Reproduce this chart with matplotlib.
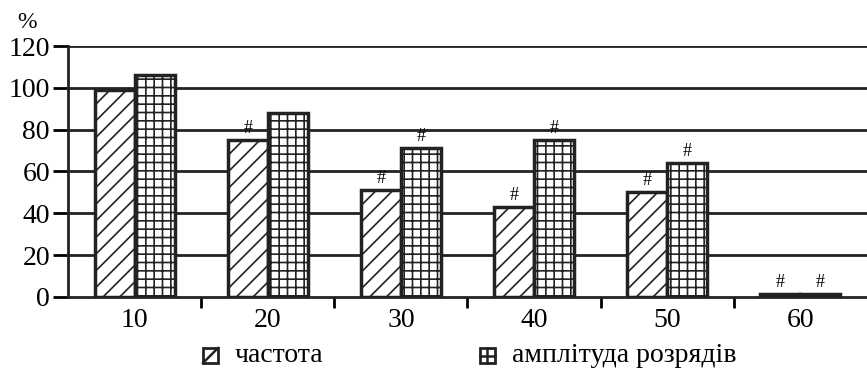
import matplotlib
matplotlib.use("Agg")
import matplotlib.pyplot as plt
from matplotlib.patches import Rectangle
from matplotlib.lines import Line2D
import numpy as np

plt.rcParams['font.family'] = ['Liberation Serif', 'DejaVu Serif']
plt.rcParams['hatch.linewidth'] = 1.2

# data
groups = ['10', '20', '30', '40', '50', '60']
freq = [99, 75, 51, 43, 50, 1.2]
ampl = [106, 88, 71, 75, 64, 1.2]
freq_mark = [False, True, True, True, True, True]
ampl_mark = [False, False, True, True, True, True]
legend_labels = ['частота', 'амплітуда розрядів']

W, H = 867, 371
fig = plt.figure(figsize=(W / 100, H / 100), dpi=100)
ax = fig.add_axes([0.0784, 0.1995, 0.9216, 0.6765])

x = np.arange(len(groups))
w = 0.3

ax.set_ylim(0, 120)
ax.set_xlim(-0.5, len(groups) - 0.5)
for yv in range(20, 121, 20):
    ax.axhline(yv, color='#222222', lw=2, zorder=1)

ax.bar(x - w / 2, freq, w, facecolor='white', edgecolor='#222222',
       hatch='//', lw=2.5, zorder=2)
ax.bar(x + w / 2, ampl, w, facecolor='white', edgecolor='#222222',
       hatch='++', lw=2.5, zorder=2)

for i in range(len(groups)):
    if freq_mark[i]:
        ax.text(x[i] - w / 2, freq[i] + 1.5, '#', ha='center', va='bottom',
                fontsize=13)
    if ampl_mark[i]:
        ax.text(x[i] + w / 2, ampl[i] + 1.5, '#', ha='center', va='bottom',
                fontsize=13)

ax.set_xticks(x)
ax.set_xticklabels(groups, fontsize=20)
ax.set_xticks(x[:-1] + 0.5, minor=True)
ax.tick_params(axis='x', which='major', length=0, pad=8)
ax.tick_params(axis='x', which='minor', length=8, width=2, direction='out')
ax.set_yticks(range(0, 121, 20))
ax.tick_params(axis='y', length=11, width=2, labelsize=20, pad=2)

for s in ['top', 'right']:
    ax.spines[s].set_visible(False)
for s in ['left', 'bottom']:
    ax.spines[s].set_linewidth(2)
    ax.spines[s].set_color('#222222')

fig.text(0.02, 0.925, '%', fontsize=17)

# legend drawn by hand: small squares with a diagonal / a cross
def px(xp, yp):
    return xp / W, 1 - yp / H

sq = 15
for k, (x0, tx) in enumerate([(203, 235), (480, 512)]):
    y0 = 348
    fx, fy = px(x0, y0 + sq)
    fig.add_artist(Rectangle((fx, fy), sq / W, sq / H, transform=fig.transFigure,
                             facecolor='white', edgecolor='#222222', lw=2))
    if k == 0:
        xs, ys = zip(px(x0, y0 + sq), px(x0 + sq, y0))
    else:
        xs, ys = zip(px(x0 + sq / 2, y0), px(x0 + sq / 2, y0 + sq))
        fig.add_artist(Line2D(*zip(px(x0, y0 + sq / 2), px(x0 + sq, y0 + sq / 2)),
                              transform=fig.transFigure, color='#222222', lw=1.8))
    fig.add_artist(Line2D(xs, ys, transform=fig.transFigure, color='#222222', lw=1.8))
    tfx, tfy = px(tx, y0 + sq / 2)
    fig.text(tfx, tfy, legend_labels[k], fontsize=20, va='center', ha='left')

fig.savefig('out.png', dpi=100)
